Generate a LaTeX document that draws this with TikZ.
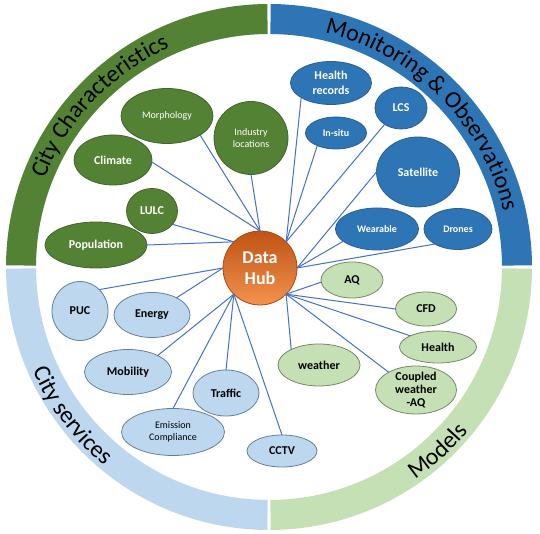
\documentclass[tikz,border=0pt]{standalone}
\usepackage{fontspec}
\setmainfont{Carlito}
\usetikzlibrary{shapes.geometric,decorations.text}

\definecolor{ccfill}{HTML}{548235}
\definecolor{ccdraw}{HTML}{41642A}
\definecolor{mofill}{HTML}{2E75B6}
\definecolor{modraw}{HTML}{2A5E90}
\definecolor{mdfill}{HTML}{C5E0B4}
\definecolor{mddraw}{HTML}{728A66}
\definecolor{csfill}{HTML}{BDD7EE}
\definecolor{csdraw}{HTML}{62809E}
\definecolor{linkblue}{HTML}{4472C4}
\definecolor{hubtop}{HTML}{BF5313}
\definecolor{hubbot}{HTML}{F3924E}
\definecolor{hubdraw}{HTML}{A84B10}

\newcommand{\drawQuarter}[3]{\fill[#3] ([shift={(#1:263)}]269,267) arc[start angle=#1, end angle=#2, radius=263] -- ([shift={(#2:233)}]269,267) arc[start angle=#2, end angle=#1, radius=233] -- cycle;}
\newcommand{\ringText}[4]{\path[decorate, decoration={text along path, text align=center, text={|\fontsize{24}{28}\selectfont|#4}}] ([shift={(#1:#3)}]269,267) arc[start angle=#1, end angle=#2, radius=#3];}

\begin{document}
\begin{tikzpicture}[x=1pt, y=1pt,
    bubble/.style={ellipse, inner sep=0pt, outer sep=0pt, line width=0.8pt, align=center, font=\fontsize{12}{14.4}\selectfont\bfseries},
    bsize/.style 2 args={minimum width=#1pt, minimum height=#2pt},
    charbubble/.style={bubble, fill=ccfill, draw=ccdraw, text=white},
    monbubble/.style={bubble, fill=mofill, draw=modraw, text=white},
    modbubble/.style={bubble, fill=mdfill, draw=mddraw, text=black},
    servbubble/.style={bubble, fill=csfill, draw=csdraw, text=black},
    thintxt/.style={font=\fontsize{10}{12}\selectfont},
    smalltxt/.style={font=\fontsize{10}{12}\selectfont\bfseries},
    hubnode/.style={circle, minimum size=74pt, inner sep=0pt, outer sep=0pt, top color=hubtop, bottom color=hubbot, draw=hubdraw, line width=0.8pt, text=white, align=center, font=\fontsize{18}{21}\selectfont\bfseries},
    link/.style={draw=linkblue, line width=1pt}]

    \fill[white] (0,0) rectangle (540,534);
    \useasboundingbox (0,0) rectangle (540,534);

    % Outer ring
    \drawQuarter{90.35}{179.65}{ccfill}
    \drawQuarter{0.35}{89.65}{mofill}
    \drawQuarter{180.35}{269.65}{csfill}
    \drawQuarter{270.35}{359.65}{mdfill}

    \ringText{172}{101}{241}{City Characteristics}
    \ringText{88}{2}{241}{Monitoring {\&} Observations}
    \ringText{190}{244}{258}{City services}
    \ringText{285}{340}{258}{Models}

    % City characteristics
    \node[charbubble, bsize={92}{55}, thintxt] (morph) at (167,418) {Morphology};
    \node[charbubble, bsize={74}{73}, thintxt] (industry) at (251,396) {Industry\\locations};
    \node[charbubble, bsize={78}{50}] (climate) at (113,374) {Climate};
    \node[charbubble, bsize={51}{45}] (lulc) at (152,323) {LULC};
    \node[charbubble, bsize={102}{46}] (pop) at (96,289) {Population};

    % Monitoring and observations
    \node[monbubble, bsize={81}{43}] (hrec) at (331,451) {Health\\records};
    \node[monbubble, bsize={52}{42}] (lcs) at (401,426) {LCS};
    \node[monbubble, bsize={61}{32}, smalltxt] (insitu) at (336,401) {In-situ};
    \node[monbubble, bsize={83}{70}] (sat) at (418,362) {Satellite};
    \node[monbubble, bsize={83}{42}, smalltxt] (wear) at (377,305) {Wearable};
    \node[monbubble, bsize={68}{41}, smalltxt] (drones) at (458,305) {Drones};

    % Models
    \node[modbubble, bsize={62}{36}] (aq) at (352,254) {AQ};
    \node[modbubble, bsize={61}{34}] (cfd) at (426,225) {CFD};
    \node[modbubble, bsize={77}{32}] (health) at (438,187) {Health};
    \node[modbubble, bsize={82}{42}] (weather) at (319,169) {weather};
    \node[modbubble, bsize={81}{48}, inner sep=-4pt, font=\fontsize{12}{13}\selectfont\bfseries] (coupled) at (416,144) {Coupled\\weather\\-AQ};

    % City services
    \node[servbubble, bsize={56}{59}] (puc) at (80,223) {PUC};
    \node[servbubble, bsize={76}{45}] (energy) at (152,219) {Energy};
    \node[servbubble, bsize={87}{45}] (mobility) at (128,162) {Mobility};
    \node[servbubble, bsize={66}{46}] (traffic) at (226,141) {Traffic};
    \node[servbubble, bsize={103}{47}, thintxt] (emission) at (173,102) {Emission\\Compliance};
    \node[servbubble, bsize={70}{32}] (cctv) at (282,83) {CCTV};

    % Hub
    \node[hubnode] (hub) at (260,266) {Data\\Hub};

    % Connectors from the hub
    \foreach \n/\a in {morph/-30, climate/-3, industry/-90}
        \draw[link] (hub.north) -- (\n.\a);
    \foreach \n/\a in {pop/0, lulc/-33}
        \draw[link] (hub.north west) -- (\n.\a);
    \foreach \n/\a in {hrec/206, insitu/214, lcs/225}
        \draw[link] (hub.north east) -- (\n.\a);
    \foreach \n/\a in {sat/180, wear/200, drones/213}
        \draw[link] (hub.east) -- (\n.\a);
    \foreach \n/\a in {aq/184, cfd/180, health/158, coupled/147, weather/151}
        \draw[link] (hub.south east) -- (\n.\a);
    \foreach \n/\a in {mobility/29, traffic/90, emission/90, cctv/90}
        \draw[link] (hub.south west) -- (\n.\a);
    \foreach \n/\a in {puc/48, energy/35}
        \draw[link] (hub.west) -- (\n.\a);

\end{tikzpicture}
\end{document}
